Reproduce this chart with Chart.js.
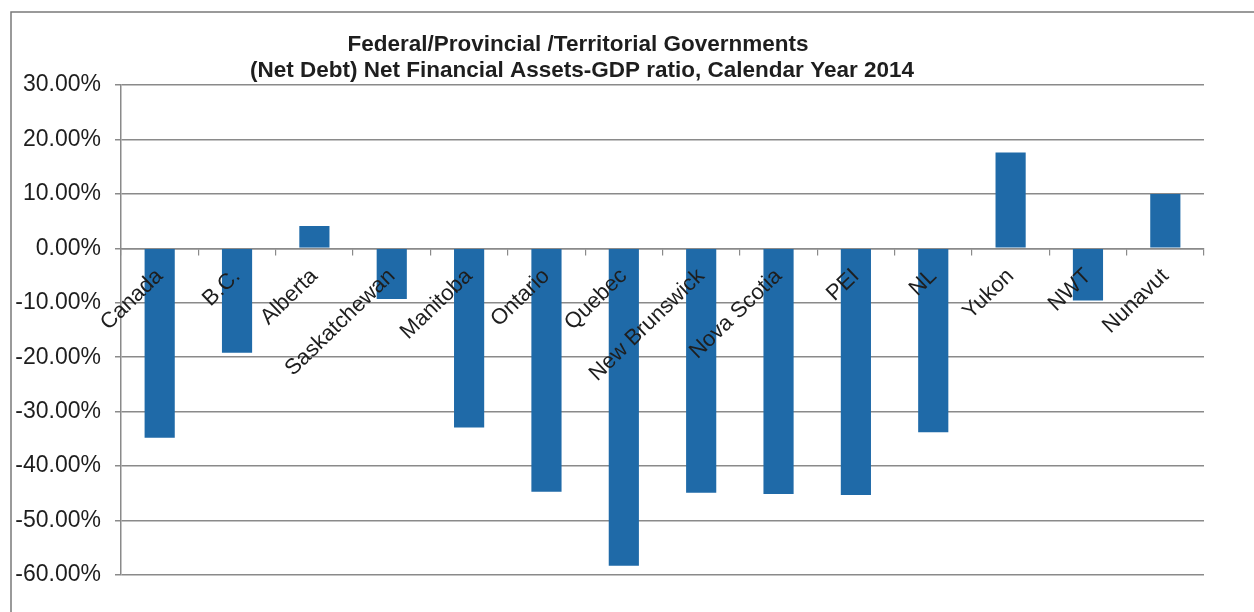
<!DOCTYPE html>
<html>
<head>
<meta charset="utf-8">
<script src="https://cdn.jsdelivr.net/npm/chart.js@4/dist/chart.umd.min.js"></script>
<style>
  html, body { margin: 0; padding: 0; background: #fff; }
  #wrap { position: relative; width: 1254px; height: 612px; }
</style>
</head>
<body>
<div id="wrap"><canvas id="chart" width="1254" height="612"></canvas></div>
<script>
// Jurisdictions, left to right
const categories = ['Canada', 'B.C.', 'Alberta', 'Saskatchewan', 'Manitoba', 'Ontario', 'Quebec',
  'New Brunswick', 'Nova Scotia', 'PEI', 'NL', 'Yukon', 'NWT', 'Nunavut'];
// Net financial assets as a share of GDP, percent (negative = net debt)
const ratioValues = [-34.8, -19.2, 4.1, -9.3, -32.9, -44.7, -58.3, -44.9, -45.1, -45.3, -33.8, 17.6, -9.6, 10.0];
// Value axis ticks, percent
const yTicks = [30, 20, 10, 0, -10, -20, -30, -40, -50, -60];
const titleLines = ['Federal/Provincial /Territorial Governments',
  '(Net Debt) Net Financial Assets-GDP ratio, Calendar Year 2014'];

const FONT = 'Arial, "Liberation Sans", sans-serif';
const TEXT = '#1e1e1e';
const GRID = '#8a8a8a';

// Outer frame and two-line heading
const framePlugin = {
  id: 'frameAndTitle',
  beforeDraw(chart) {
    const ctx = chart.ctx;
    ctx.save();
    ctx.strokeStyle = '#7a7a7a';
    ctx.lineWidth = 1.5;
    ctx.beginPath();
    ctx.moveTo(11, 612);
    ctx.lineTo(11, 12);
    ctx.lineTo(1254, 12);
    ctx.stroke();
    ctx.restore();
  },
  afterDraw(chart) {
    const ctx = chart.ctx;
    ctx.save();
    ctx.fillStyle = TEXT;
    ctx.font = 'bold 22.5px ' + FONT;
    ctx.textAlign = 'center';
    ctx.textBaseline = 'alphabetic';
    ctx.fillText(titleLines[0], 578, 51);
    ctx.fillText(titleLines[1], 582, 77);
    ctx.restore();
  }
};

new Chart(document.getElementById('chart'), {
  type: 'bar',
  data: {
    labels: categories,
    datasets: [{
      data: ratioValues,
      backgroundColor: '#1f6aa8',
      borderWidth: 0,
      barPercentage: 0.39,
      categoryPercentage: 1.0
    }]
  },
  options: {
    responsive: false,
    animation: false,
    layout: { padding: { left: 10, right: 50, top: 85, bottom: 37 } },
    plugins: { legend: { display: false }, title: { display: false }, tooltip: { enabled: false } },
    scales: {
      x: {
        position: { y: 0 },
        offset: true,
        grid: { display: true, drawOnChartArea: false, drawTicks: true, tickLength: 6, color: GRID, lineWidth: 1.2, offset: true },
        border: { display: true, color: GRID, width: 1.5 },
        ticks: {
          z: 1,
          autoSkip: false, minRotation: 44, maxRotation: 44, padding: 9,
          color: TEXT, font: { family: FONT, size: 22 }
        }
      },
      y: {
        min: -60, max: 30,
        afterFit(scale) { scale.width = 111; },
        afterBuildTicks(scale) { scale.ticks = yTicks.map(v => ({ value: v })); },
        grid: { color: GRID, lineWidth: 1.5, tickLength: 6 },
        border: { display: true, color: GRID, width: 1.5 },
        ticks: {
          padding: 14, color: TEXT, font: { family: FONT, size: 23 },
          callback: v => v.toFixed(2) + '%'
        }
      }
    }
  },
  plugins: [framePlugin]
});
</script>
</body>
</html>
